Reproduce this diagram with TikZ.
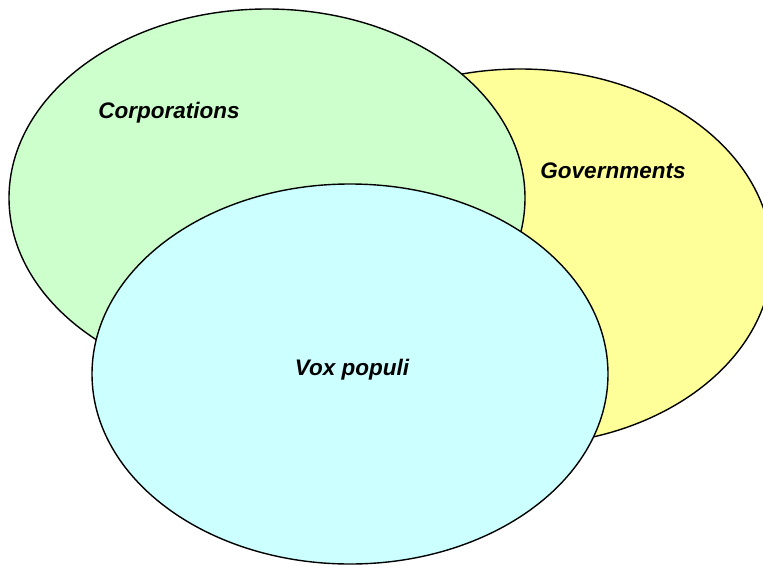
\documentclass[tikz,border=0pt]{standalone}
\usepackage{fontspec}
\setmainfont{Liberation Sans}
\definecolor{corpgreen}{HTML}{CCFFCC}
\definecolor{govyellow}{HTML}{FFFF99}
\definecolor{voxcyan}{HTML}{CCFFFF}
\begin{document}
\begin{tikzpicture}[x=1pt,y=-1pt,
  blob/.style={draw=black,line width=1.4pt},
  lbl/.style={anchor=base,inner sep=0pt,font=\fontsize{22.5}{27}\selectfont\bfseries\itshape}]
\useasboundingbox (0,0) rectangle (763,565);
\clip (0,0) rectangle (763,565);
\draw[blob,fill=govyellow] (520,257) ellipse [x radius=252,y radius=188];
\draw[blob,fill=corpgreen] (267,198) ellipse [x radius=258,y radius=189];
\draw[blob,fill=voxcyan] (350,374) ellipse [x radius=258,y radius=190];
\node[lbl] (corp) at (169,118) {Corporations};
\node[lbl] (gov) at (613,178) {Governments};
\node[lbl] (vox) at (352,375) {Vox populi};
\end{tikzpicture}
\end{document}
